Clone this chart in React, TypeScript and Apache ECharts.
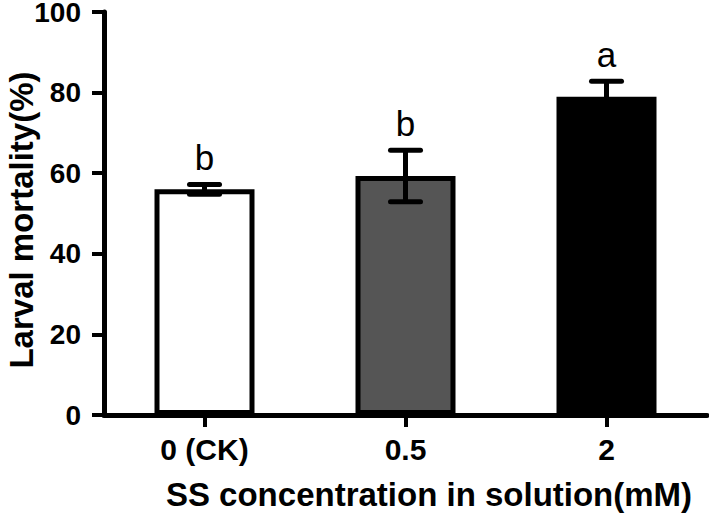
import React, { useEffect, useRef } from 'react';
import * as echarts from 'echarts';

const categories = ['0 (CK)', '0.5', '2'];
const means = [56, 59.3, 79];
const errors = [1.2, 6.4, 3.8];
const barColors = ['#ffffff', '#555555', '#000000'];
const sigLetters = ['b', 'b', 'a'];
const yMin = 0;
const yMax = 100;
const yInterval = 20;
const xTitle = 'SS concentration in solution(mM)';
const yTitle = 'Larval mortality(%)';

const FONT = '"Liberation Sans", Arial, Helvetica, sans-serif';

export default function App() {
  const ref = useRef<HTMLDivElement>(null);
  useEffect(() => {
    document.body.style.margin = '0';
    const chart = echarts.init(ref.current!, null, { renderer: 'svg' });
    const errData = categories.map((c, i) => [i, means[i], errors[i]]);
    chart.setOption({
      animation: false,
      backgroundColor: '#ffffff',
      grid: { left: 104, right: 2, top: 12, bottom: 99, containLabel: false, outerBoundsMode: 'none' },
      xAxis: {
        type: 'category',
        data: categories,
        boundaryGap: true,
        z: 3,
        axisLine: { show: true, lineStyle: { color: '#000', width: 5 } },
        axisTick: { show: true, alignWithLabel: true, length: 12, lineStyle: { color: '#000', width: 4 } },
        axisLabel: { color: '#000', fontSize: 30, fontWeight: 'bold', fontFamily: FONT, margin: 19 },
        splitLine: { show: false },
      },
      yAxis: {
        type: 'value',
        min: yMin,
        max: yMax,
        interval: yInterval,
        z: 3,
        axisLine: { show: true, lineStyle: { color: '#000', width: 5 } },
        axisTick: { show: true, length: 12, lineStyle: { color: '#000', width: 4 } },
        axisLabel: { color: '#000', fontSize: 28, fontWeight: 'bold', fontFamily: FONT, margin: 23, lineHeight: 24 },
        splitLine: { show: false },
      },
      series: [
        {
          type: 'bar',
          barWidth: 100,
          data: means.map((v, i) => ({
            value: v,
            itemStyle: { color: barColors[i], borderColor: '#000', borderWidth: 5 },
          })),
          z: 2,
        },
        {
          type: 'custom',
          z: 5,
          data: errData,
          renderItem: (params: any, api: any) => {
            const x = api.value(0);
            const m = api.value(1);
            const e = api.value(2);
            const letter = sigLetters[params.dataIndex];
            const hi = api.coord([x, m + e]);
            const lo = api.coord([x, m - e]);
            const half = 15;
            const ls = { stroke: '#000', lineWidth: 5 };
            return {
              type: 'group',
              children: [
                { type: 'line', shape: { x1: hi[0], y1: hi[1], x2: lo[0], y2: lo[1] }, style: ls },
                { type: 'line', shape: { x1: hi[0] - half, y1: hi[1], x2: hi[0] + half, y2: hi[1] }, style: { ...ls, lineCap: 'round' } },
                { type: 'line', shape: { x1: lo[0] - half, y1: lo[1], x2: lo[0] + half, y2: lo[1] }, style: { ...ls, lineCap: 'round' } },
                {
                  type: 'text',
                  x: hi[0],
                  y: hi[1] - 9,
                  style: {
                    text: letter,
                    fill: '#000',
                    font: `35px ${FONT}`,
                    align: 'center',
                    verticalAlign: 'bottom',
                    textAlign: 'center',
                    textVerticalAlign: 'bottom',
                  },
                },
              ],
            };
          },
        },
      ],
      graphic: [
        {
          type: 'text',
          x: 429,
          y: 494,
          style: {
            text: xTitle,
            fill: '#000',
            font: `bold 33px ${FONT}`,
            align: 'center',
            verticalAlign: 'middle',
            textAlign: 'center',
            textVerticalAlign: 'middle',
          },
        },
        {
          type: 'text',
          x: 21,
          y: 220,
          rotation: Math.PI / 2,
          style: {
            text: yTitle,
            fill: '#000',
            font: `bold 33px ${FONT}`,
            align: 'center',
            verticalAlign: 'middle',
            textAlign: 'center',
            textVerticalAlign: 'middle',
          },
        },
      ],
    });
    return () => chart.dispose();
  }, []);
  return <div ref={ref} style={{ width: 709, height: 514, position: 'absolute', left: 0, top: 0 }} />;
}
